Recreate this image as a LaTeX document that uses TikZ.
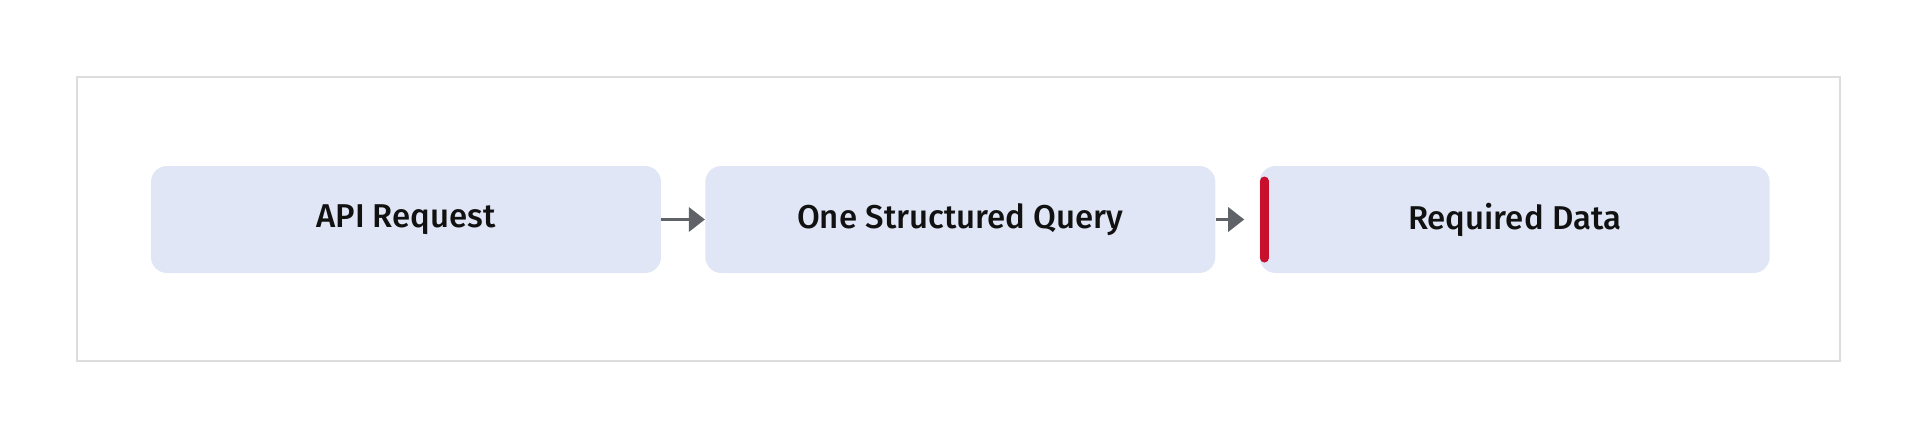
\documentclass[tikz,border=0pt]{standalone}
\usepackage{fontspec}
\setmainfont{Fira Sans}[UprightFont={* Medium}]
\usepackage{xcolor}
\usetikzlibrary{arrows.meta, positioning}

\definecolor{boxfill}{HTML}{E0E6F5}
\definecolor{framegray}{HTML}{DDDDDD}
\definecolor{arrowgray}{HTML}{5F6368}
\definecolor{barred}{HTML}{C8102E}
\definecolor{textdark}{HTML}{111111}

\begin{document}
\begin{tikzpicture}[
        box/.style={rectangle, rounded corners=8pt, fill=boxfill, text=textdark, minimum height=53.5pt, minimum width=255pt, font=\fontsize{16.5}{19}\selectfont},
        arrow/.style={-{Triangle[length=8pt, width=12pt]}, line width=1.7pt, draw=arrowgray},
        frame/.style={draw=framegray, line width=0.75pt},
        redbar/.style={draw=barred, line width=4.5pt, line cap=round},
        node distance=21.75pt
    ]
        \useasboundingbox (0,0) rectangle (960pt,220pt);
        \draw[frame] (38.5pt,39.5pt) rectangle (920pt,181.5pt);
        \node[box] (R) at (203pt,110.25pt) {API Request};
        \node[box, right=of R] (Q) {One Structured Query};
        \node[box, right=of Q] (D) {Required Data};
        \draw[arrow] (R) -- (Q);
        \draw[arrow, shorten >=7.5pt] (Q) -- (D);
        \draw[redbar] ([xshift=2.5pt, yshift=19.25pt]D.west) -- ([xshift=2.5pt, yshift=-19.25pt]D.west);
    \end{tikzpicture}
\end{document}
